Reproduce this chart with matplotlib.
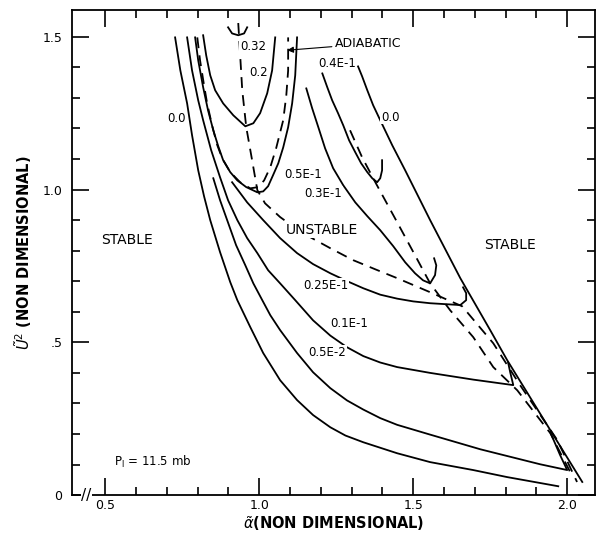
import numpy as np
import matplotlib.pyplot as plt

# curves: (alpha, U^2) pairs, one pair of lists per curve
c00_left_x = [0.727, 0.744, 0.766, 0.782, 0.802, 0.821, 0.841, 0.873, 0.906, 0.929, 0.971, 1.013,
              1.068, 1.123, 1.175, 1.231, 1.280, 1.338, 1.448, 1.555, 1.695, 1.805, 1.971]
c00_left_y = [1.498, 1.390, 1.282, 1.178, 1.063, 0.978, 0.900, 0.795, 0.697, 0.638, 0.550, 0.465,
              0.376, 0.311, 0.262, 0.222, 0.195, 0.173, 0.137, 0.108, 0.082, 0.059, 0.029]

c00_right_x = [1.321, 1.334, 1.351, 1.370, 1.393, 1.432, 1.474, 1.555, 1.653, 1.750, 1.805, 1.945, 2.049]
c00_right_y = [1.403, 1.371, 1.325, 1.276, 1.227, 1.145, 1.063, 0.900, 0.710, 0.540, 0.442, 0.213, 0.043]

c05e2_x = [0.851, 0.873, 0.896, 0.925, 0.955, 0.981, 1.010, 1.036, 1.068, 1.123, 1.175, 1.231,
           1.285, 1.338, 1.393, 1.448, 1.555, 1.718, 1.805, 1.912, 2.000, 1.977, 1.945]
c05e2_y = [1.037, 0.965, 0.900, 0.818, 0.752, 0.693, 0.638, 0.589, 0.540, 0.465, 0.402, 0.350,
           0.310, 0.280, 0.252, 0.230, 0.198, 0.150, 0.128, 0.101, 0.082, 0.131, 0.206]

c01e1_x = [0.766, 0.782, 0.802, 0.818, 0.844, 0.873, 0.899, 0.929, 0.961, 0.994, 1.029, 1.068,
           1.117, 1.175, 1.231, 1.285, 1.338, 1.393, 1.448, 1.555, 1.695, 1.825, 1.815, 1.808]
c01e1_y = [1.498, 1.390, 1.292, 1.227, 1.129, 1.040, 0.965, 0.900, 0.841, 0.792, 0.736, 0.693,
           0.638, 0.572, 0.522, 0.484, 0.455, 0.434, 0.419, 0.400, 0.378, 0.360, 0.402, 0.435]

c025e1_x = [0.912, 0.961, 1.013, 1.068, 1.123, 1.175, 1.231, 1.286, 1.338, 1.393, 1.448, 1.500,
            1.555, 1.653, 1.672, 1.672, 1.662]
c025e1_y = [1.024, 0.958, 0.900, 0.841, 0.792, 0.756, 0.726, 0.700, 0.677, 0.656, 0.643, 0.634,
            0.628, 0.622, 0.638, 0.661, 0.680]

c03e1_x = [1.153, 1.172, 1.192, 1.214, 1.240, 1.273, 1.312, 1.351, 1.393, 1.435, 1.474, 1.506,
           1.532, 1.555, 1.571, 1.575, 1.568]
c03e1_y = [1.331, 1.266, 1.204, 1.135, 1.070, 1.014, 0.958, 0.913, 0.867, 0.815, 0.762, 0.726,
           0.703, 0.693, 0.720, 0.752, 0.775]

c04e1_x = [1.205, 1.221, 1.237, 1.256, 1.273, 1.292, 1.312, 1.331, 1.351, 1.367, 1.383, 1.393, 1.399, 1.399]
c04e1_y = [1.380, 1.335, 1.292, 1.250, 1.210, 1.161, 1.122, 1.086, 1.057, 1.037, 1.024, 1.037, 1.063, 1.096]

c05e1_x = [0.792, 0.802, 0.818, 0.834, 0.851, 0.867, 0.883, 0.906, 0.929, 0.958, 0.994, 1.013,
           1.029, 1.045, 1.062, 1.078, 1.094, 1.107, 1.117, 1.123]
c05e1_y = [1.498, 1.423, 1.335, 1.259, 1.194, 1.142, 1.096, 1.057, 1.030, 1.008, 0.991, 0.994,
           1.011, 1.047, 1.086, 1.138, 1.204, 1.282, 1.374, 1.498]

c02_x = [0.818, 0.828, 0.841, 0.857, 0.883, 0.916, 0.955, 0.981, 1.003, 1.026, 1.042, 1.052]
c02_y = [1.505, 1.439, 1.374, 1.325, 1.282, 1.243, 1.207, 1.217, 1.250, 1.315, 1.390, 1.498]

c032_x = [0.899, 0.912, 0.932, 0.951, 0.961]
c032_y = [1.531, 1.511, 1.505, 1.511, 1.531]

adiab_x = [0.799, 0.808, 0.821, 0.831, 0.847, 0.864, 0.880, 0.906, 0.938, 0.971, 0.997, 1.016,
           1.036, 1.055, 1.078, 1.088, 1.094, 1.094]
adiab_y = [1.498, 1.423, 1.341, 1.282, 1.210, 1.145, 1.102, 1.057, 1.024, 1.004, 1.008, 1.030,
           1.073, 1.135, 1.227, 1.308, 1.390, 1.498]

# dashed loci through the minima / cusps
locus1_x = [0.932, 0.945, 0.958, 0.977, 0.994, 1.019, 1.068, 1.117, 1.166, 1.231, 1.305, 1.377,
            1.448, 1.555, 1.659, 1.760, 1.847, 1.968, 2.032]
locus1_y = [1.545, 1.325, 1.204, 1.096, 0.998, 0.955, 0.910, 0.874, 0.844, 0.808, 0.769, 0.739,
            0.710, 0.664, 0.618, 0.497, 0.360, 0.180, 0.043]

locus2_x = [1.295, 1.334, 1.377, 1.448, 1.506, 1.555, 1.620, 1.695, 1.760, 1.838, 1.945, 2.010]
locus2_y = [1.194, 1.106, 1.024, 0.893, 0.785, 0.693, 0.605, 0.517, 0.419, 0.343, 0.203, 0.075]

curve_labels = ["0.32", "0.2", "0.0", "0.4E-1", "0.0", "0.5E-1", "0.3E-1", "0.25E-1", "0.1E-1", "0.5E-2"]
label_x = [0.980, 0.997, 0.730, 1.252, 1.425, 1.142, 1.207, 1.216, 1.291, 1.220]
label_y = [1.469, 1.384, 1.233, 1.413, 1.237, 1.050, 0.988, 0.687, 0.563, 0.468]

x_ticks = [0.5, 1.0, 1.5, 2.0]
x_tick_labels = ["0.5", "1.0", "1.5", "2.0"]
y_ticks = [0.0, 0.5, 1.0, 1.5]
y_tick_labels = ["0", ".5", "1.0", "1.5"]

fig = plt.figure(figsize=(5.97, 5.37), dpi=100)
ax = fig.add_axes([0.121, 0.078, 0.876, 0.903])

lw = 1.3
solid = [(c00_left_x, c00_left_y), (c00_right_x, c00_right_y), (c05e2_x, c05e2_y),
         (c01e1_x, c01e1_y), (c025e1_x, c025e1_y), (c03e1_x, c03e1_y), (c04e1_x, c04e1_y),
         (c05e1_x, c05e1_y), (c02_x, c02_y), (c032_x, c032_y)]
for xs, ys in solid:
    ax.plot(xs, ys, color="black", lw=lw, solid_joinstyle="round")

for xs, ys in [(adiab_x, adiab_y), (locus1_x, locus1_y), (locus2_x, locus2_y)]:
    ax.plot(xs, ys, color="black", lw=lw, linestyle=(0, (6, 4)))

txt = dict(fontsize=8.5, ha="center", va="center")
for s, x, y in zip(curve_labels, label_x, label_y):
    ax.text(x, y, s, bbox=dict(facecolor="white", edgecolor="none", pad=0.5), **txt)

ax.text(1.205, 0.867, "UNSTABLE", fontsize=10, ha="center", va="center",
        bbox=dict(facecolor="white", edgecolor="none", pad=0.5))
ax.text(0.571, 0.834, "STABLE", fontsize=10, ha="center", va="center")
ax.text(1.815, 0.818, "STABLE", fontsize=10, ha="center", va="center")
ax.text(0.53, 0.108, r"P$_{\rm l}$ = 11.5 mb", fontsize=8.5, ha="left", va="center")

ax.annotate("ADIABATIC", xy=(1.091, 1.456), xytext=(1.245, 1.477), fontsize=9,
            ha="left", va="center",
            arrowprops=dict(arrowstyle="-|>", color="black", lw=0.8, shrinkA=0, shrinkB=0))

ax.set_xlim(0.393, 2.091)
ax.set_ylim(0, 1.587)

ax.set_xticks(x_ticks)
ax.set_xticklabels(x_tick_labels)
ax.set_xticks(np.arange(0.6, 2.05, 0.1), minor=True)
ax.set_yticks(y_ticks)
ax.set_yticklabels(y_tick_labels)
ax.set_yticks(np.arange(0.1, 1.55, 0.1), minor=True)

ax.tick_params(which="both", direction="in", top=True, right=True, labelsize=9, width=1.2)
ax.tick_params(which="major", length=12)
ax.tick_params(axis="x", which="major", pad=3)
ax.tick_params(axis="y", which="major", pad=7)
ax.tick_params(which="minor", length=6)
for sp in ax.spines.values():
    sp.set_linewidth(1.3)

# axis break marks near the origin
ax.text(0.438, 0.0, "//", fontsize=11, ha="center", va="center",
        bbox=dict(facecolor="white", edgecolor="none", pad=0.2))

ax.set_xlabel(r"$\tilde{\alpha}$(NON DIMENSIONAL)", fontsize=10.5, fontweight="bold", labelpad=1)
ax.set_ylabel(r"$\tilde{U}^2$ (NON DIMENSIONAL)", fontsize=10.5, fontweight="bold", labelpad=6)

fig.savefig("out.png", dpi=100)
